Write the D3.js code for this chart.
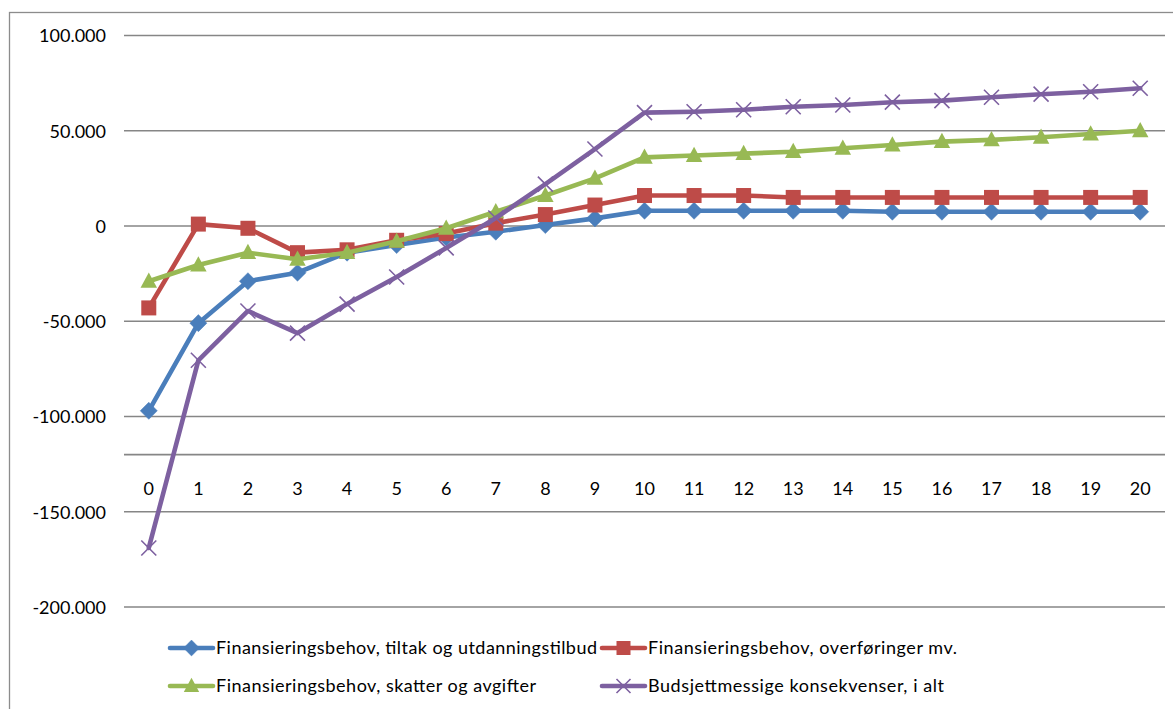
<!DOCTYPE html>
<html><head><meta charset="utf-8">
<script src="https://cdn.jsdelivr.net/npm/d3@7"></script>
<style>body{margin:0;background:#fff}svg{display:block}text{font-family:Lato,"Liberation Sans",Arial,sans-serif;fill:#000}</style>
</head><body>
<svg id="c" width="1173" height="709"></svg>
<script>
const categories = ["0","1","2","3","4","5","6","7","8","9","10","11","12","13","14","15","16","17","18","19","20"];
const tiltak = [-97000,-51000,-29000,-24500,-14000,-10000,-6000,-3000,500,4000,8000,8000,8000,8000,8000,7500,7500,7500,7500,7500,7500];
const overforinger = [-43000,1000,-1200,-14000,-12500,-7500,-4000,1500,6000,11000,16000,16000,16000,15000,15000,15000,15000,15000,15000,15000,15000];
const skatter = [-29000,-20500,-14000,-17500,-14000,-8000,-1200,7500,16000,25000,36000,37000,38000,39000,40800,42500,44300,45200,46600,48300,50000];
const iAlt = [-169000,-70500,-44600,-56200,-41000,-26800,-11500,4200,22000,40400,59500,60000,61000,62600,63500,65000,65800,67600,69200,70500,72300];
const yTicks = [100000,50000,0,-50000,-100000,-150000,-200000];
const yTickLabels = ["100.000","50.000","0","-50.000","-100.000","-150.000","-200.000"];
const axisCross = -120000;
const seriesNames = ["Finansieringsbehov, tiltak og utdanningstilbud","Finansieringsbehov, overføringer mv.","Finansieringsbehov, skatter og avgifter","Budsjettmessige konsekvenser, i alt"];
const seriesValues = [tiltak, overforinger, skatter, iAlt];
const colors = ["#4A7EBB","#BE4B48","#98B954","#7D60A0"];
const symbols = ["diamond","square","triangle","cross"];

const svg = d3.select("#c");
svg.append("rect").attr("x",9.5).attr("y",12.5).attr("width",1200).attr("height",800)
  .attr("fill","none").attr("stroke","#8c8c8c").attr("stroke-width",1.3);

const x = d3.scaleBand().domain(categories).range([124,1165]);
const y = d3.scaleLinear().domain([-200000,100000]).range([607,35.5]);

const g = svg.append("g");
g.append("g").selectAll("line").data(yTicks).join("line")
  .attr("x1",124).attr("x2",1165).attr("y1",d=>y(d)).attr("y2",d=>y(d))
  .attr("stroke","#868686").attr("stroke-width",1.7);
g.append("line").attr("x1",124).attr("x2",1165).attr("y1",y(axisCross)).attr("y2",y(axisCross))
  .attr("stroke","#868686").attr("stroke-width",1.7);

const yAxis = d3.axisLeft(y).tickValues(yTicks).tickFormat((d,i)=>yTickLabels[i]).tickSize(0).tickPadding(0);
const ya = svg.append("g").attr("transform","translate(106,0)").call(yAxis);
ya.select(".domain").remove();
ya.selectAll("text").attr("font-size","18px").attr("font-family","Lato, sans-serif").attr("fill","#000").attr("dy","0.36em");

const xAxis = d3.axisBottom(x).tickSize(0).tickPadding(0);
const xa = svg.append("g").attr("transform",`translate(0,${y(axisCross)+34})`).call(xAxis);
xa.select(".domain").remove();
xa.selectAll("text").attr("font-size","18px").attr("font-family","Lato, sans-serif").attr("fill","#000").attr("dy","0.36em");

const cx = c => x(c) + x.bandwidth()/2;

function marker(sel, type, color, size){
  if(type==="diamond"){
    sel.append("path").attr("d",d3.symbol(d3.symbolDiamond2, size*size*0.95)()).attr("fill",color).attr("stroke",color).attr("stroke-width",0.5);
  } else if(type==="square"){
    sel.append("rect").attr("x",-size/2).attr("y",-size/2).attr("width",size).attr("height",size).attr("fill",color);
  } else if(type==="triangle"){
    const h=size*0.95, w=size*1.1;
    sel.append("path").attr("d",`M0,${-h*0.62}L${w/2},${h*0.45}L${-w/2},${h*0.45}Z`).attr("fill",color);
  } else {
    const s=size/2;
    sel.append("path").attr("d",`M${-s},${-s}L${s},${s}M${-s},${s}L${s},${-s}`).attr("stroke",color).attr("stroke-width",1.6).attr("fill","none");
  }
}

const line = d3.line().x((d,i)=>cx(categories[i])).y(d=>y(d));
const sizes=[14,15,15,15];
seriesValues.forEach((vals,k)=>{
  const sg = svg.append("g");
  sg.append("path").datum(vals).attr("d",line).attr("fill","none").attr("stroke",colors[k])
    .attr("stroke-width",4.6).attr("stroke-linejoin","round").attr("stroke-linecap","round");
  sg.selectAll("g.m").data(vals).join("g").attr("class","m")
    .attr("transform",(d,i)=>`translate(${cx(categories[i])},${y(d)})`)
    .each(function(){ marker(d3.select(this), symbols[k], colors[k], sizes[k]); });
});

const legPos = [[170,648],[602,648],[170,686],[602,686]];
const legTextW = [381, 309, 320, 296];
seriesNames.forEach((name,k)=>{
  const lg = svg.append("g").attr("transform",`translate(${legPos[k][0]},${legPos[k][1]})`);
  lg.append("line").attr("x1",0).attr("x2",43).attr("y1",0).attr("y2",0).attr("stroke",colors[k]).attr("stroke-width",4.6).attr("stroke-linecap","round");
  const m = lg.append("g").attr("transform","translate(21.5,0)");
  marker(m, symbols[k], colors[k], sizes[k]-1);
  lg.append("text").attr("x",46).attr("y",0).attr("dy","0.36em").attr("font-size","18px")
    .attr("textLength",legTextW[k]).attr("lengthAdjust","spacing").text(name);
});
</script>
</body></html>
